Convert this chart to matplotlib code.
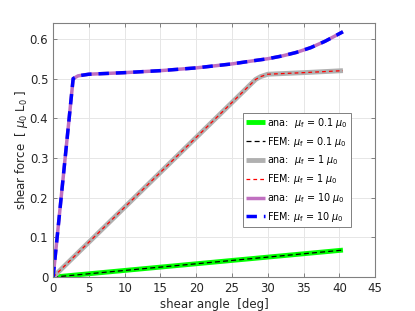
import matplotlib
matplotlib.use("Agg")
import matplotlib.pyplot as plt

# data
x_mu01 = [0, 40.5]
y_mu01 = [0, 0.068]
x_mu1 = [0, 28.3, 29.0, 30.0, 35.0, 40.5]
y_mu1 = [0, 0.498, 0.505, 0.511, 0.515, 0.520]
x_mu10 = [0, 2.8, 3.5, 5, 10, 15, 20, 25, 28, 30, 32, 34, 36, 38, 40.5]
y_mu10 = [0, 0.500, 0.507, 0.511, 0.515, 0.520, 0.527, 0.537, 0.545, 0.550, 0.557, 0.566, 0.578, 0.594, 0.618]

xticks = [0, 5, 10, 15, 20, 25, 30, 35, 40, 45]
yticks = [0, 0.1, 0.2, 0.3, 0.4, 0.5, 0.6]
ytick_labels = ["0", "0.1", "0.2", "0.3", "0.4", "0.5", "0.6"]

plt.rcParams['font.family'] = ['DejaVu Sans']
plt.rcParams['mathtext.fontset'] = 'dejavusans'

fig = plt.figure(figsize=(4.15, 3.11), dpi=100)
ax = fig.add_axes([0.128, 0.109, 0.776, 0.817])

ax.plot(x_mu01, y_mu01, color='#00ff00', lw=3.5, label=r'ana:  $\mu_\mathrm{f}$ = 0.1 $\mu_0$', solid_capstyle='butt')
ax.plot(x_mu01, y_mu01, color='black', lw=0.9, ls=(0, (4, 2.5)), label=r'FEM: $\mu_\mathrm{f}$ = 0.1 $\mu_0$')
ax.plot(x_mu1, y_mu1, color='#b0b0b0', lw=3.5, label=r'ana:  $\mu_\mathrm{f}$ = 1 $\mu_0$', solid_capstyle='butt')
ax.plot(x_mu1, y_mu1, color='#ff0000', lw=0.9, ls=(0, (3, 2.5)), label=r'FEM: $\mu_\mathrm{f}$ = 1 $\mu_0$')
ax.plot(x_mu10, y_mu10, color='#c070c0', lw=2.5, label=r'ana:  $\mu_\mathrm{f}$ = 10 $\mu_0$', solid_capstyle='butt')
ax.plot(x_mu10, y_mu10, color='#0000ff', lw=2.5, ls=(0, (3, 2)), label=r'FEM: $\mu_\mathrm{f}$ = 10 $\mu_0$')

ax.set_xlim(0, 45)
ax.set_ylim(0, 0.64)
ax.set_xticks(xticks)
ax.set_xticklabels([str(t) for t in xticks])
ax.set_yticks(yticks)
ax.set_yticklabels(ytick_labels)
ax.grid(True, color='#e6e6e6', lw=0.7)
ax.set_axisbelow(True)
ax.tick_params(direction='in', length=3, width=0.7, colors='#808080', labelcolor='#262626',
               labelsize=8.5, top=True, right=True)
for s in ax.spines.values():
    s.set_color('#808080')
    s.set_linewidth(0.8)

ax.set_xlabel('shear angle  [deg]', fontsize=8.5, color='#262626', labelpad=2)
ax.set_ylabel(r'shear force  [ $\mu_0$ L$_0$ ]', fontsize=8.5, color='#262626', labelpad=0)

leg = ax.legend(loc='upper left', bbox_to_anchor=(0.59, 0.646), fontsize=6.9,
                handlelength=2.0, handletextpad=0.2, borderpad=0.3, labelspacing=0.5,
                fancybox=False, framealpha=1, edgecolor='#808080', borderaxespad=0)
leg.get_frame().set_linewidth(0.7)

fig.savefig('out.png', dpi=100)
